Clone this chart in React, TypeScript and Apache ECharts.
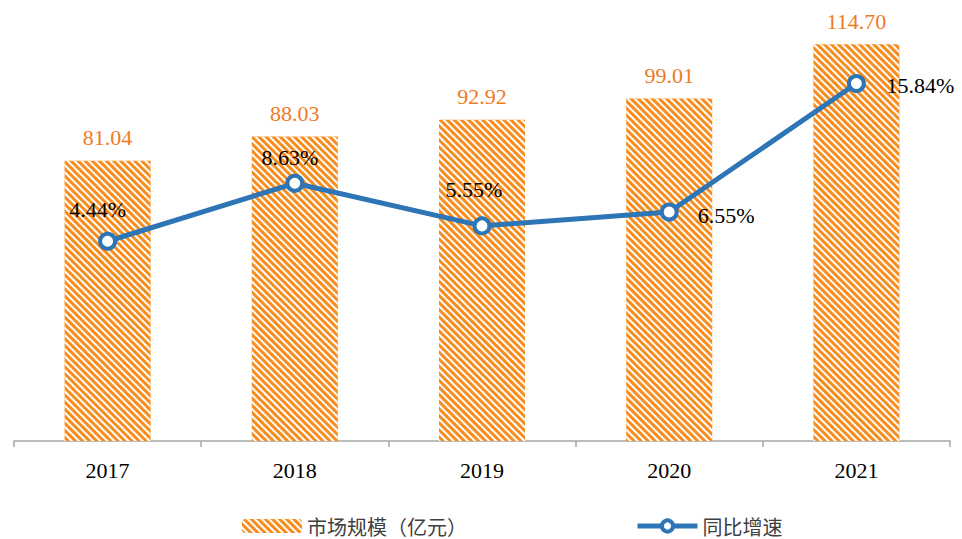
import React, { useEffect, useRef } from "react";
import * as echarts from "echarts";

const categories = ["2017", "2018", "2019", "2020", "2021"];
const marketSize = [81.04, 88.03, 92.92, 99.01, 114.7];
const growthRate = [4.44, 8.63, 5.55, 6.55, 15.84];
const growthLabelOffsets: [number, number][] = [
  [-10, -32],
  [-5, -26],
  [-8, -36],
  [57, 3],
  [64, 2],
];

const ORANGE = "#F88C1C";
const ORANGE_TEXT = "#F07A22";
const BLUE = "#2E75B6";
const SERIF = "Liberation Serif";
const CJK = "Noto Sans CJK SC";

export default function App() {
  const ref = useRef<HTMLDivElement>(null);
  useEffect(() => {
    if (!ref.current) return;
    const chart = echarts.init(ref.current, undefined, { renderer: "svg" });
    chart.setOption({
      animation: false,
      backgroundColor: "#ffffff",
      grid: { left: 14, right: 12, top: 26, bottom: 98, containLabel: false },
      legend: {
        left: 237,
        top: 511,
        itemWidth: 60,
        itemHeight: 14,
        itemGap: 168,
        textStyle: { fontFamily: CJK, fontSize: 20, color: "#404040" },
        data: [
          { name: "市场规模（亿元）" },
          {
            name: "同比增速",
            lineStyle: { color: BLUE, width: 5 },
            itemStyle: { color: "#ffffff", borderColor: BLUE, borderWidth: 4 },
          },
        ],
      },
      xAxis: {
        type: "category",
        data: categories,
        axisLine: { lineStyle: { color: "#A6A6A6", width: 1.5 } },
        axisTick: { show: true, length: 6, lineStyle: { color: "#A6A6A6", width: 1.5 } },
        axisLabel: { fontFamily: SERIF, fontSize: 22, color: "#000", margin: 18 },
      },
      yAxis: [
        { type: "value", min: 0, max: 120, show: false, splitLine: { show: false } },
        { type: "value", min: -10, max: 20, show: false, splitLine: { show: false } },
      ],
      series: [
        {
          name: "市场规模（亿元）",
          type: "bar",
          data: marketSize,
          barWidth: 86,
          itemStyle: {
            color: ORANGE,
            decal: {
              symbol: "rect",
              color: "#ffffff",
              dashArrayX: [1, 0],
              dashArrayY: [2, 2.4],
              rotation: Math.PI / 4,
            },
          },
          label: {
            show: true,
            position: "top",
            distance: 12,
            fontFamily: SERIF,
            fontSize: 22,
            color: ORANGE_TEXT,
            formatter: (p: any) => p.value.toFixed(2),
          },
        },
        {
          name: "同比增速",
          type: "line",
          yAxisIndex: 1,
          data: growthRate.map((v, i) => ({
            value: v,
            label: { offset: growthLabelOffsets[i] },
          })),
          symbol: "circle",
          symbolSize: 15,
          lineStyle: { color: BLUE, width: 5 },
          itemStyle: { color: "#ffffff", borderColor: BLUE, borderWidth: 4 },
          label: {
            show: true,
            position: "inside",
            fontFamily: SERIF,
            fontSize: 22,
            color: "#000",
            formatter: (p: any) => p.value.toFixed(2) + "%",
          },
        },
      ],
    });
    return () => chart.dispose();
  }, []);
  return (
    <div
      ref={ref}
      style={{ position: "fixed", left: 0, top: 0, width: 962, height: 539 }}
    />
  );
}
